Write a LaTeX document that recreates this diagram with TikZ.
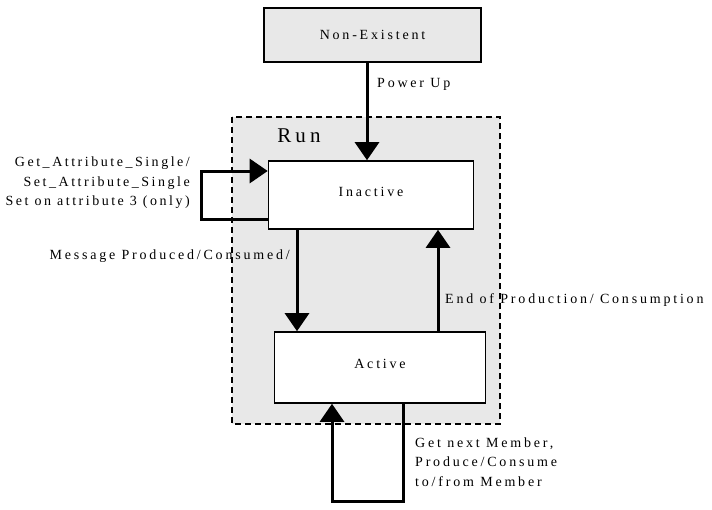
\documentclass[tikz,border=0pt]{standalone}
\usepackage{fontspec}
\setmainfont{Liberation Serif}[LetterSpace=20]
\newfontfamily\tightfont{Liberation Serif}[LetterSpace=18]
\usetikzlibrary{arrows.meta,calc}
\begin{document}
\begin{tikzpicture}[x=1pt,y=-1pt,
  every node/.style={font=\fontsize{14}{19.5}\selectfont},
  box/.style={draw, line width=1.6pt, fill=white, inner sep=0pt},
  arr/.style={line width=3pt, -{Triangle[length=18pt,width=24pt]}},
  lbl/.style={inner sep=0pt}]
\useasboundingbox (0,0) rectangle (712,509);
\definecolor{bg}{RGB}{232,232,232}
% Run region
\draw[dash pattern=on 6pt off 4pt, line width=1.4pt, fill=bg] (232,117) rectangle (500,424);
\node[lbl, font=\fontsize{21}{24}\selectfont] (runlbl) at (299,136) {Run};
% states
\node[box, fill=bg, line width=1.4pt, minimum width=217pt, minimum height=54pt] (ne) at (372.5,35) {\raisebox{-3pt}{Non-Existent}};
\node[box, minimum width=205pt, minimum height=68pt] (inact) at (371,195) {\raisebox{7pt}{Inactive}};
\node[box, minimum width=211pt, minimum height=71pt] (act) at (380,367.5) {\raisebox{8pt}{Active}};
% helper coordinates
\coordinate (pu) at (367,0);
\coordinate (ld) at (297,0);
\coordinate (ru) at (438,0);
\coordinate (lo) at (201,219);
\coordinate (li) at (201,171);
\coordinate (bo) at (403,501);
\coordinate (bi) at (332,501);
% transitions
\draw[arr] (ne.south -| pu) -- (inact.north -| pu);
\draw[arr] (inact.west |- lo) -- (lo) -- (li) -- (inact.west |- li);
\draw[arr] (inact.south -| ld) -- (act.north -| ld);
\draw[arr] (act.north -| ru) -- (inact.south -| ru);
\draw[arr] (act.south -| bo) -- (bo) -- (bi) -- (act.south -| bi);
% labels
\node[lbl, anchor=west] (lpu) at (377,84) {Power Up};
\node[lbl, anchor=east, align=right, font=\tightfont\fontsize{14}{19.5}\selectfont] (lself) at (190,183) {Get\_Attribute\_Single/\\Set\_Attribute\_Single\\Set on attribute 3 (only)};
\node[lbl, anchor=east] (lmsg) at (290,256) {Message Produced/Consumed/};
\node[lbl, anchor=west] (lend) at (445,300) {End of Production/ Consumption};
\node[lbl, anchor=west, align=left] (lnext) at (415,462) {Get next Member,\\Produce/Consume\\to/from Member};
\end{tikzpicture}
\end{document}
